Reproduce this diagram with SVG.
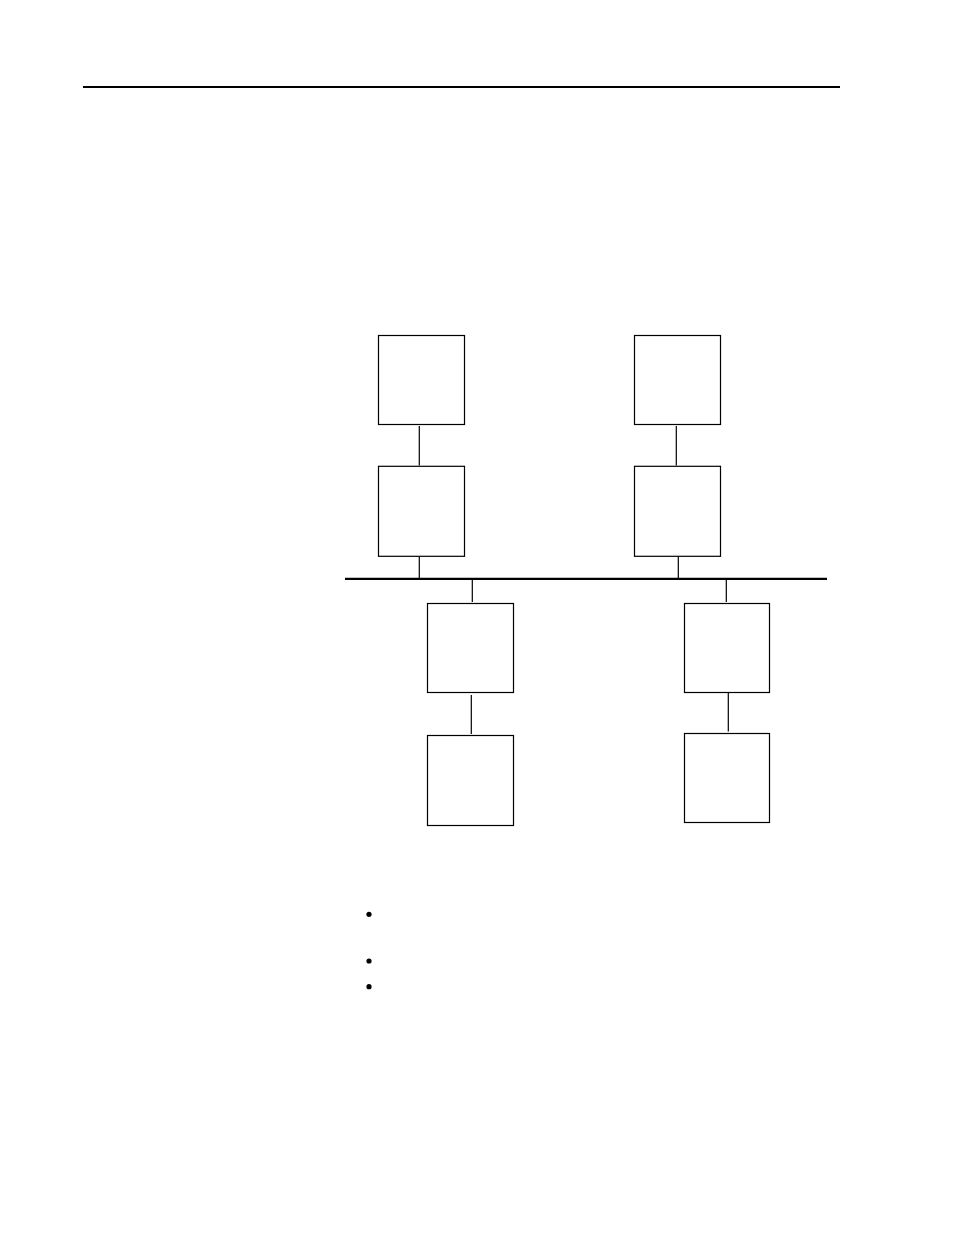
<svg xmlns="http://www.w3.org/2000/svg" width="954" height="1235" viewBox="0 0 954 1235">
<style>
.box{fill:#fff;stroke:#000;stroke-width:1.2}
.ln{stroke:#000;stroke-width:1.2;fill:none}
.bus{stroke:#000;stroke-width:2.2;fill:none}
</style>
<rect x="0" y="0" width="954" height="1235" fill="#fff"/>
<line x1="83" y1="87" x2="840" y2="87" stroke="#000" stroke-width="2"/>
<g id="connectors">
<line class="bus" x1="345" y1="578.8" x2="827" y2="578.8"/>
<line class="ln" x1="419.3" y1="426" x2="419.3" y2="465.5"/>
<line class="ln" x1="419.3" y1="556.5" x2="419.3" y2="578"/>
<line class="ln" x1="676.3" y1="426" x2="676.3" y2="465.5"/>
<line class="ln" x1="678.3" y1="556.5" x2="678.3" y2="578"/>
<line class="ln" x1="472.3" y1="579" x2="472.3" y2="602"/>
<line class="ln" x1="471.3" y1="695" x2="471.3" y2="734"/>
<line class="ln" x1="726.3" y1="579" x2="726.3" y2="602"/>
<line class="ln" x1="728.3" y1="692.5" x2="728.3" y2="731.5"/>
</g>
<g id="node-top-left"><rect class="box" x="378.5" y="335.5" width="86" height="89"/></g>
<g id="node-mid-left"><rect class="box" x="378.5" y="466.3" width="86" height="90"/></g>
<g id="node-top-right"><rect class="box" x="634.5" y="335.5" width="86" height="89"/></g>
<g id="node-mid-right"><rect class="box" x="634.5" y="466.3" width="86" height="90"/></g>
<g id="node-low-left"><rect class="box" x="427.5" y="603.5" width="86" height="89"/></g>
<g id="node-bottom-left"><rect class="box" x="427.5" y="735.5" width="86" height="90"/></g>
<g id="node-low-right"><rect class="box" x="684.5" y="603.5" width="85" height="89"/></g>
<g id="node-bottom-right"><rect class="box" x="684.5" y="733.5" width="85" height="89"/></g>
<g id="bullets" fill="#000">
<circle cx="369" cy="914.3" r="2.6"/>
<circle cx="369" cy="961" r="2.6"/>
<circle cx="369" cy="986.7" r="2.6"/>
</g>
</svg>
